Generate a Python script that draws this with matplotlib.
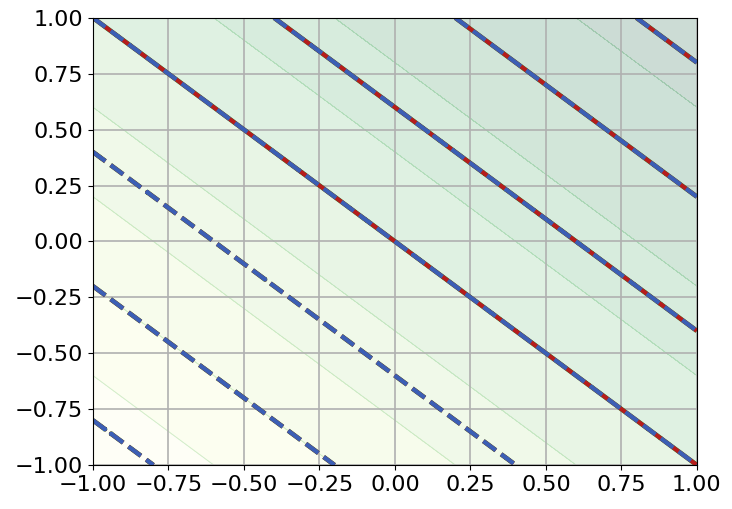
import numpy as np
import matplotlib
matplotlib.use("Agg")
import matplotlib.pyplot as plt

# contour levels of the field z = x + y
fill_levels = [-2.0, -1.6, -1.2, -0.8, -0.4, 0.0, 0.4, 0.8, 1.2, 1.6, 2.0]
line_levels = [-1.8, -1.2, -0.6, 0.0, 0.6, 1.2, 1.8]
ticks = [-1.0, -0.75, -0.5, -0.25, 0.0, 0.25, 0.5, 0.75, 1.0]

xs = np.linspace(-1, 1, 201)
ys = np.linspace(-1, 1, 201)
X, Y = np.meshgrid(xs, ys)
Z = X + Y

fig = plt.figure(figsize=(7.32, 5.09), dpi=100)
ax = fig.add_axes([0.127, 0.0864, 0.825, 0.8786])

ax.contourf(X, Y, Z, levels=fill_levels, cmap="YlGn", alpha=0.2, zorder=0)
ax.contour(X, Y, Z, levels=fill_levels, colors="#9ed8a6", alpha=0.45,
           linewidths=0.7, linestyles="solid", zorder=0.2)

# single colour -> negative levels come out dashed
green_lw = 3.4
ax.contour(X, Y, Z, levels=line_levels, colors="#2e7d32", linewidths=green_lw,
           negative_linestyles=(0, (11.1 / green_lw, 4.8 / green_lw)))
ax.contour(X, Y, Z, levels=line_levels, colors="#b71c1c", linewidths=3)
ax.contour(X, Y, Z, levels=line_levels, colors="#3b5fb5", linewidths=3,
           linestyles="dashed")

ax.set_xlim(-1, 1)
ax.set_ylim(-1, 1)
ax.set_xticks(ticks)
ax.set_yticks(ticks)
ax.tick_params(labelsize=16)
ax.set_axisbelow(True)
ax.grid(True, color="#b0b0b0", linewidth=1.2)

fig.savefig("out.png", dpi=100)
